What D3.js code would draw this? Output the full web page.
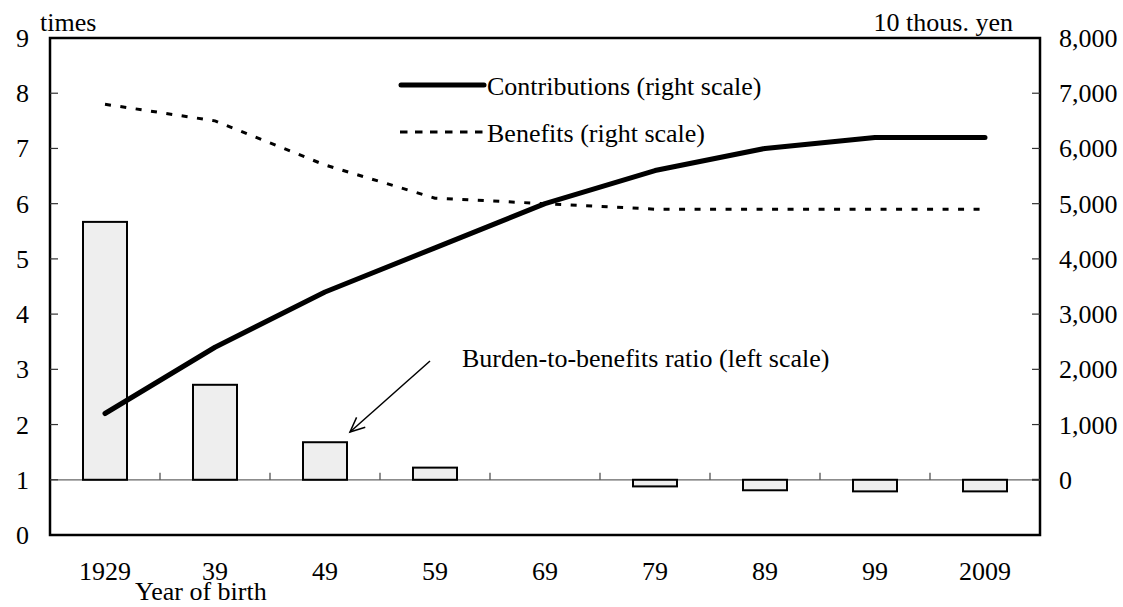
<!DOCTYPE html>
<html><head><meta charset="utf-8">
<script src="https://cdn.jsdelivr.net/npm/d3@7"></script>
<style>body{margin:0;background:#fff}svg{display:block}text{font-family:"Liberation Serif","Times New Roman",serif;fill:#000}</style>
</head><body>
<svg id="c" width="1123" height="607"></svg>
<script>
const years = ["1929","39","49","59","69","79","89","99","2009"];
const ratio = [5.67, 2.72, 1.68, 1.22, 1.0, 0.88, 0.81, 0.79, 0.79];
const contributions = [1200, 2400, 3400, 4200, 5000, 5600, 6000, 6200, 6200];
const benefits = [6800, 6500, 5700, 5100, 5000, 4900, 4900, 4900, 4900];
const leftTicks = [0,1,2,3,4,5,6,7,8,9];
const rightTicks = [0,1000,2000,3000,4000,5000,6000,7000,8000];

const svg = d3.select("#c");
const L = 50, R = 1040, T = 38, B = 535;
const fs = 26;
const x = d3.scaleBand().domain(years).range([L, R]).paddingInner(0.6).paddingOuter(0.3);
const yL = d3.scaleLinear().domain([0, 9]).range([B, T]);
const yR = d3.scaleLinear().domain([-1000, 8000]).range([B, T]);
const cx = d => x(d) + x.bandwidth() / 2;

// baseline at ratio 1
svg.append("line").attr("x1", L).attr("x2", R).attr("y1", yL(1)).attr("y2", yL(1))
  .attr("stroke", "#666").attr("stroke-width", 1.2);
// category boundary ticks on baseline
const step = x.step();
years.slice(1).forEach((d, i) => {
  const xx = L + step * (i + 1);
  svg.append("line").attr("x1", xx).attr("x2", xx).attr("y1", yL(1)).attr("y2", yL(1) - 7)
    .attr("stroke", "#444").attr("stroke-width", 1.2);
});

// bars
svg.selectAll("rect.bar").data(years.map((d, i) => ({ d, v: ratio[i] })).filter(e => e.v !== 1))
  .join("rect").attr("class", "bar")
  .attr("x", e => x(e.d)).attr("width", x.bandwidth())
  .attr("y", e => Math.min(yL(e.v), yL(1))).attr("height", e => Math.abs(yL(e.v) - yL(1)))
  .attr("fill", "#eeeeee").attr("stroke", "#000").attr("stroke-width", 2);

// lines
const line = d3.line().x((v, i) => cx(years[i])).y(v => yR(v));
svg.append("path").attr("d", line(benefits)).attr("fill", "none").attr("stroke", "#000")
  .attr("stroke-width", 3).attr("stroke-dasharray", "6,9.5");
svg.append("path").attr("d", line(contributions)).attr("fill", "none").attr("stroke", "#000")
  .attr("stroke-width", 5).attr("stroke-linecap", "round").attr("stroke-linejoin", "round");

// frame
svg.append("rect").attr("x", L).attr("y", T).attr("width", R - L).attr("height", B - T)
  .attr("fill", "none").attr("stroke", "#000").attr("stroke-width", 2.5);

// left axis ticks/labels
leftTicks.forEach(t => {
  if (t > 0 && t < 9) svg.append("line").attr("x1", L).attr("x2", L + 8).attr("y1", yL(t)).attr("y2", yL(t)).attr("stroke", "#333").attr("stroke-width", 1.2);
  svg.append("text").attr("x", 29).attr("y", yL(t) + 9).attr("text-anchor", "end").attr("font-size", fs).text(t);
});
// right axis ticks/labels
const fmt = d3.format(",");
rightTicks.forEach(t => {
  if (t < 8000) svg.append("line").attr("x1", R - 8).attr("x2", R).attr("y1", yR(t)).attr("y2", yR(t)).attr("stroke", "#333").attr("stroke-width", t === 0 ? 2 : 1.2);
  svg.append("text").attr("x", 1059).attr("y", yR(t) + 9).attr("text-anchor", "start").attr("font-size", fs).text(fmt(t));
});
// x labels
years.forEach(d => {
  svg.append("text").attr("x", cx(d)).attr("y", 580).attr("text-anchor", "middle").attr("font-size", fs).text(d);
});
svg.append("text").attr("x", 135).attr("y", 600).attr("font-size", fs).text("Year of birth");
svg.append("text").attr("x", 40).attr("y", 31).attr("font-size", fs).text("times");
svg.append("text").attr("x", 1013).attr("y", 31).attr("text-anchor", "end").attr("font-size", fs).text("10 thous. yen");

// legend
svg.append("line").attr("x1", 401).attr("x2", 484).attr("y1", 85).attr("y2", 85).attr("stroke", "#000").attr("stroke-width", 5).attr("stroke-linecap", "round");
svg.append("text").attr("x", 487).attr("y", 95).attr("font-size", fs).text("Contributions (right scale)");
svg.append("line").attr("x1", 400).attr("x2", 486).attr("y1", 132).attr("y2", 132).attr("stroke", "#000").attr("stroke-width", 3).attr("stroke-dasharray", "7.5,7.5");
svg.append("text").attr("x", 487).attr("y", 142).attr("font-size", fs).text("Benefits (right scale)");

// annotation
svg.append("text").attr("x", 462).attr("y", 367).attr("font-size", fs).text("Burden-to-benefits ratio (left scale)");
const ax1 = 430, ay1 = 361, ax2 = 350, ay2 = 432;
svg.append("line").attr("x1", ax1).attr("y1", ay1).attr("x2", ax2).attr("y2", ay2).attr("stroke", "#000").attr("stroke-width", 1.5);
const ang = Math.atan2(ay2 - ay1, ax2 - ax1);
const hl = 16, ha = 0.42;
svg.append("path").attr("d", `M${ax2 - hl * Math.cos(ang - ha)},${ay2 - hl * Math.sin(ang - ha)}L${ax2},${ay2}L${ax2 - hl * Math.cos(ang + ha)},${ay2 - hl * Math.sin(ang + ha)}`)
  .attr("fill", "none").attr("stroke", "#000").attr("stroke-width", 1.5);
</script>
</body></html>
